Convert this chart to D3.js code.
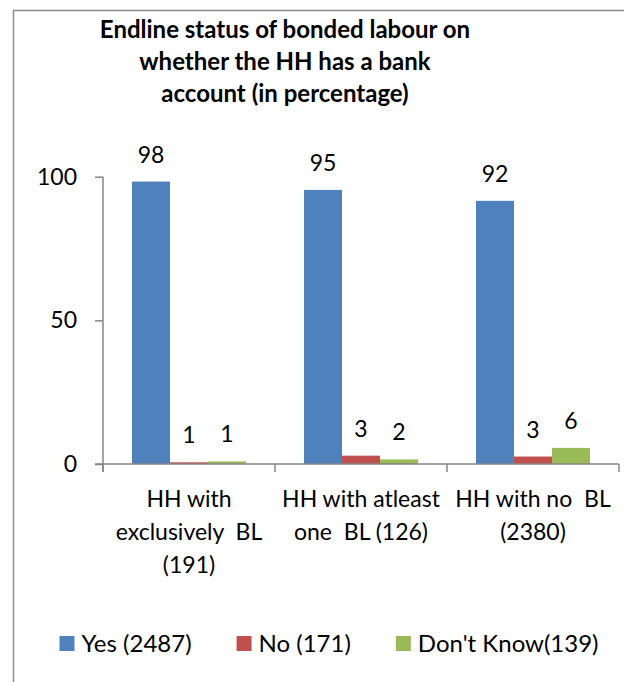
<!DOCTYPE html>
<html>
<head>
<meta charset="utf-8">
<script src="https://cdn.jsdelivr.net/npm/d3@7"></script>
<style>
    body { margin: 0; background: #fff; }
    text { font-family: Lato, "Noto Sans", sans-serif; fill: #000; }
</style>
</head>
<body>
<div id="chart"></div>
<script>
// Chart data
const titleLines = ["Endline status of bonded labour on", "whether the HH has a bank", "account (in percentage)"];
const categories = ["excl", "atleast", "none"];
const categoryLines = [
    ["HH with", "exclusively  BL", "(191)"],
    ["HH with atleast", "one  BL (126)"],
    ["HH with no  BL", "(2380)"]
];
const seriesNames = ["Yes (2487)", "No (171)", "Don't Know(139)"];
const yesValues = [98.3, 95.4, 91.6];
const noValues = [0.6, 2.9, 2.6];
const dontKnowValues = [0.9, 1.6, 5.6];
const yTicks = [0, 50, 100];

const seriesValues = [yesValues, noValues, dontKnowValues];
const colors = ["#4F81BD", "#C0504D", "#9BBB59"];

const width = 624;
const height = 682;
const fontSize = 23;

const svg = d3.select("#chart").append("svg")
    .attr("width", width)
    .attr("height", height);

// chart frame (runs off the right and bottom edge of the picture)
svg.append("rect")
    .attr("x", 13.5)
    .attr("y", 10.5)
    .attr("width", 800)
    .attr("height", 800)
    .attr("fill", "#fff")
    .attr("stroke", "#8c8c8c")
    .attr("stroke-width", 1.5);

// Title
svg.append("text")
    .attr("text-anchor", "middle")
    .attr("font-weight", "bold")
    .attr("font-size", "24px")
    .selectAll("tspan")
    .data(titleLines)
    .join("tspan")
    .attr("x", 285)
    .attr("y", (d, i) => 38 + i * 32)
    .text(d => d);

// Scales
const x = d3.scaleBand()
    .domain(categories)
    .range([103, 619])
    .paddingInner(0)
    .paddingOuter(0);

const xSeries = d3.scaleBand()
    .domain(d3.range(seriesNames.length))
    .range([0, x.bandwidth()])
    .paddingInner(0)
    .paddingOuter(0.763);

const y = d3.scaleLinear()
    .domain([0, 100])
    .range([464, 176.7]);

// Y axis
const yAxis = svg.append("g")
    .attr("transform", `translate(${x.range()[0]},0)`)
    .call(d3.axisLeft(y).tickValues(yTicks).tickSize(8).tickPadding(18).tickSizeOuter(0));
yAxis.select(".domain").remove();
yAxis.selectAll("line").attr("stroke", "#868686").attr("stroke-width", 1.5);
yAxis.selectAll("text").attr("font-size", fontSize + "px").attr("font-family", null);

svg.append("line")
    .attr("x1", x.range()[0]).attr("x2", x.range()[0])
    .attr("y1", y(100)).attr("y2", y(0) + 8)
    .attr("stroke", "#868686")
    .attr("stroke-width", 1.5);

// Bars
const bars = svg.append("g");
categories.forEach((c, ci) => {
    seriesValues.forEach((vals, si) => {
        bars.append("rect")
            .attr("x", x(c) + xSeries(si))
            .attr("y", y(vals[ci]))
            .attr("width", xSeries.bandwidth())
            .attr("height", y(0) - y(vals[ci]))
            .attr("fill", colors[si]);

        bars.append("text")
            .attr("x", x(c) + xSeries(si) + xSeries.bandwidth() / 2)
            .attr("y", y(vals[ci]) - 19)
            .attr("text-anchor", "middle")
            .attr("font-size", fontSize + "px")
            .text(d3.format(".0f")(vals[ci]));
    });
});

// X axis (drawn over the bars' base)
const xAxis = svg.append("g");
xAxis.append("line")
    .attr("x1", x.range()[0] - 8).attr("x2", x.range()[1])
    .attr("y1", y(0)).attr("y2", y(0))
    .attr("stroke", "#868686")
    .attr("stroke-width", 1.5);

const boundaries = categories.map(c => x(c)).concat([x.range()[1]]);
xAxis.selectAll(".cat-tick")
    .data(boundaries)
    .join("line")
    .attr("x1", d => d).attr("x2", d => d)
    .attr("y1", y(0)).attr("y2", y(0) + 8)
    .attr("stroke", "#868686")
    .attr("stroke-width", 1.5);

categories.forEach((c, ci) => {
    xAxis.append("text")
        .attr("text-anchor", "middle")
        .attr("font-size", fontSize + "px")
        .style("white-space", "pre")
        .selectAll("tspan")
        .data(categoryLines[ci])
        .join("tspan")
        .attr("x", x(c) + x.bandwidth() / 2)
        .attr("y", (d, i) => 507 + i * 33)
        .text(d => d);
});

// Legend
const legend = svg.append("g");
const items = legend.selectAll("g")
    .data(seriesNames)
    .join("g");

items.append("rect")
    .attr("width", 15)
    .attr("height", 15)
    .attr("y", 636)
    .attr("fill", (d, i) => colors[i]);

items.append("text")
    .attr("x", 22)
    .attr("y", 643.5)
    .attr("dy", "0.35em")
    .attr("font-size", "24px")
    .text(d => d);

// lay legend items out side by side, centred
const gap = 45;
const widths = [];
items.each(function() {
    widths.push(22 + d3.select(this).select("text").node().getComputedTextLength());
});
const total = d3.sum(widths) + gap * (widths.length - 1);
let cursor = 329 - total / 2;
items.attr("transform", (d, i) => {
    const t = `translate(${cursor},0)`;
    cursor += widths[i] + gap;
    return t;
});
</script>
</body>
</html>
